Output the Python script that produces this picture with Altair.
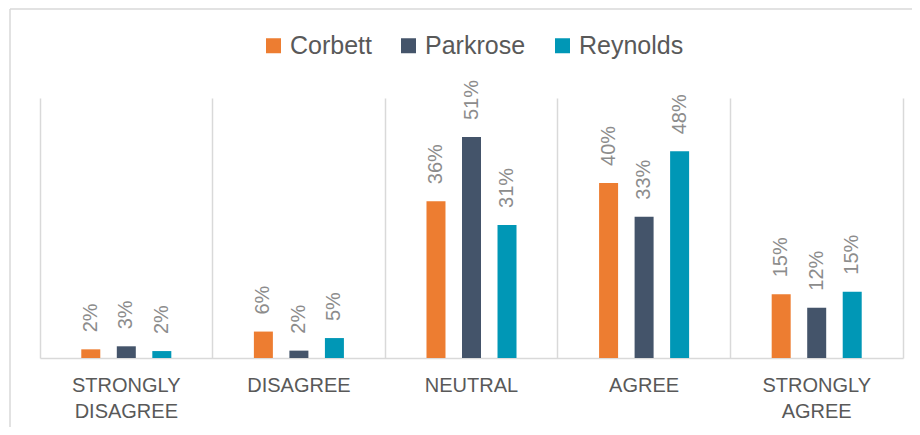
import altair as alt
import pandas as pd

categories = ["STRONGLY DISAGREE", "DISAGREE", "NEUTRAL", "AGREE", "STRONGLY AGREE"]
schools = ["Corbett", "Parkrose", "Reynolds"]
corbett = [0.020, 0.061, 0.362, 0.404, 0.147]
parkrose = [0.027, 0.017, 0.510, 0.326, 0.116]
reynolds = [0.016, 0.046, 0.307, 0.477, 0.153]
colors = ["#ED7D31", "#44546A", "#0097B6"]

rows = []
for school, vals in zip(schools, [corbett, parkrose, reynolds]):
    for cat, v in zip(categories, vals):
        rows.append({"category": cat, "school": school, "value": v})
df = pd.DataFrame(rows)

W, H = 863, 260
FONT = "Liberation Sans"
GRID = "#d9d9d9"

x_enc = alt.X(
    "category:N", sort=categories,
    scale=alt.Scale(paddingInner=0, paddingOuter=0),
    axis=alt.Axis(
        title=None, labelAngle=0, grid=True, bandPosition=0,
        gridColor=GRID, gridWidth=1.5, domainColor=GRID, domainWidth=1.5,
        ticks=False, tickSize=0, labelExpr="split(datum.label, ' ')",
        labelFont=FONT, labelFontSize=20, labelColor="#595959",
        labelPadding=17, labelLineHeight=26,
    ),
)
xoff = alt.XOffset("school:N", sort=schools,
                   scale=alt.Scale(paddingInner=0, paddingOuter=0.93))
y_axis = alt.Axis(orient="right", title=None, labels=False, ticks=False,
                  grid=False, domain=True, domainColor=GRID, domainWidth=1.5)
y_enc = alt.Y("value:Q", scale=alt.Scale(domain=[0, 0.6], nice=False), axis=y_axis)

base = alt.Chart(df)
bars = base.mark_bar(size=19).encode(
    x=x_enc, xOffset=xoff, y=y_enc,
    color=alt.Color(
        "school:N", sort=schools,
        scale=alt.Scale(domain=schools, range=colors),
        legend=alt.Legend(
            title=None, orient="none", legendX=221, legendY=-65,
            direction="horizontal", symbolType="square", symbolSize=225,
            symbolStrokeWidth=0, labelFont=FONT, labelFontSize=25,
            labelColor="#595959", labelOffset=4, columnPadding=24,
        ),
    ),
)
labels = base.mark_text(
    angle=270, align="left", baseline="middle", dx=17,
    font=FONT, fontSize=20, color="#8c8c8c",
).encode(
    x=x_enc, xOffset=xoff, y=y_enc,
    text=alt.Text("value:Q", format=".0%"),
)

frame = pd.DataFrame({"a": [0]})
left_border = alt.Chart(frame).mark_rule(color=GRID, strokeWidth=1.5).encode(
    x=alt.value(-30), y=alt.value(-89), y2=alt.value(H + 69)
)
top_border = alt.Chart(frame).mark_rule(color=GRID, strokeWidth=1.5).encode(
    x=alt.value(-30), x2=alt.value(W + 9), y=alt.value(-89)
)

chart = alt.layer(bars, labels, left_border, top_border).properties(
    width=W, height=H,
    autosize=alt.AutoSizeParams(type="none"),
    padding={"left": 32, "top": 90, "right": 9, "bottom": 69},
).configure_view(stroke=None)

chart.save("out.html", embed_options={"renderer": "svg", "actions": False})
